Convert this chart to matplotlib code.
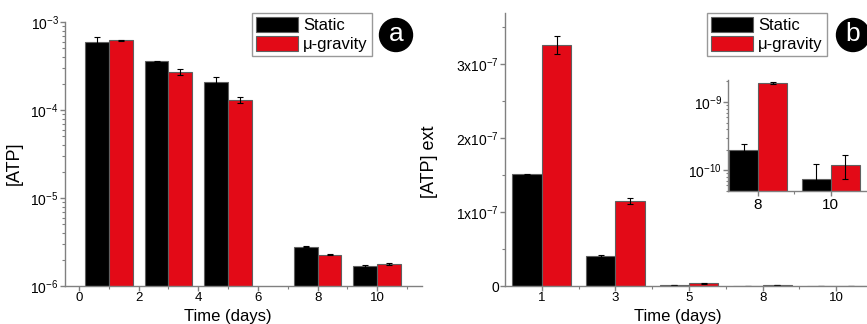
import matplotlib
matplotlib.use("Agg")
import matplotlib.pyplot as plt
import numpy as np
from matplotlib.patches import Ellipse
from matplotlib.ticker import LogLocator, FixedLocator, FuncFormatter, NullFormatter, MultipleLocator

plt.rcParams['font.family'] = ['Liberation Sans', 'DejaVu Sans']
plt.rcParams['mathtext.default'] = 'regular'

# ---- data ----
days = [1, 3, 5, 8, 10]
atp_static = [6.0e-4, 3.6e-4, 2.1e-4, 2.8e-6, 1.68e-6]
atp_static_err = [0.7e-4, 0.05e-4, 0.3e-4, 0.04e-6, 0.07e-6]
atp_grav = [6.2e-4, 2.7e-4, 1.31e-4, 2.28e-6, 1.79e-6]
atp_grav_err = [0.05e-4, 0.2e-4, 0.11e-4, 0.04e-6, 0.04e-6]

ext_labels = ['1', '3', '5', '8', '10']
ext_static = [1.51e-7, 0.40e-7, 1.5e-9, 2.0e-10, 7.5e-11]
ext_static_err = [0.01e-7, 0.02e-7, 0.2e-9, 0.45e-10, 4.7e-11]
ext_grav = [3.26e-7, 1.15e-7, 3.5e-9, 1.9e-9, 1.2e-10]
ext_grav_err = [0.12e-7, 0.04e-7, 0.3e-9, 0.05e-9, 0.47e-10]

inset_labels = ['8', '10']
inset_static = [2.0e-10, 7.5e-11]
inset_static_err = [0.45e-10, 4.7e-11]
inset_grav = [1.9e-9, 1.2e-10]
inset_grav_err = [0.05e-9, 0.47e-10]

RED = '#e30a17'
EDGE = '#606060'
SPINE = '#808080'

W, H = 867, 324
fig = plt.figure(figsize=(W / 100, H / 100), dpi=100)

def fx(px):
    return px / W

def fy(py):
    return 1 - py / H

def style_axes(ax):
    for s in ['top', 'right']:
        ax.spines[s].set_visible(False)
    for s in ['left', 'bottom']:
        ax.spines[s].set_color(SPINE)
        ax.spines[s].set_linewidth(1.0)
    ax.tick_params(which='both', direction='out', color=SPINE)
    ax.tick_params(which='major', length=3.5, width=1.0, labelsize=10, pad=1.0)
    ax.tick_params(axis='x', which='major', labelsize=9.5, pad=0.8)
    ax.tick_params(which='minor', length=2.5, width=0.8)

def pow_fmt(v, pos):
    if v <= 0:
        return ''
    e = int(round(np.log10(v)))
    return r'$10^{%d}$' % e

err_kw = dict(ecolor='black', elinewidth=0.8, capsize=2.5, capthick=0.8)

# ---- panel a ----
axa = fig.add_axes([fx(65), fy(286), fx(422) - fx(65), fy(22) - fy(286)])
d = np.array(days, dtype=float)
axa.bar(d - 0.4, atp_static, width=0.8, color='black', edgecolor=EDGE, linewidth=0.8,
        yerr=atp_static_err, error_kw=err_kw, label='Static', zorder=2)
axa.bar(d + 0.4, atp_grav, width=0.8, color=RED, edgecolor=EDGE, linewidth=0.8,
        yerr=atp_grav_err, error_kw=err_kw, label='\u03bc-gravity', zorder=2)
axa.set_yscale('log')
axa.set_ylim(1e-6, 1e-3)
axa.set_xlim(-0.47, 11.5)
axa.xaxis.set_major_locator(FixedLocator([0, 2, 4, 6, 8, 10]))
axa.xaxis.set_minor_locator(FixedLocator([1, 3, 5, 7, 9, 11]))
axa.yaxis.set_major_locator(LogLocator(base=10, numticks=10))
axa.yaxis.set_minor_locator(LogLocator(base=10, subs=np.arange(2, 10), numticks=10))
axa.yaxis.set_major_formatter(FuncFormatter(pow_fmt))
axa.yaxis.set_minor_formatter(NullFormatter())
style_axes(axa)
axa.set_xlabel('Time (days)', fontsize=12, labelpad=0, va='baseline')
axa.set_ylabel('[ATP]', fontsize=13)
axa.xaxis.set_label_coords(0.455, (286 - 320.5) / 264)
axa.yaxis.set_label_coords(-0.118, 0.466)

def add_legend(ax, x0, y0):
    handles, labels = ax.get_legend_handles_labels()
    lg = fig.legend(handles=handles, labels=labels,
                    loc='upper left', bbox_to_anchor=(fx(x0), fy(y0)),
                    fontsize=12, frameon=True, fancybox=False, edgecolor=SPINE,
                    handlelength=2.5, handleheight=1.0, handletextpad=0.3,
                    borderpad=0.25, labelspacing=0.15, borderaxespad=0.0)
    lg.get_frame().set_linewidth(1.0)
    for h in lg.legend_handles:
        try:
            h.set_edgecolor(EDGE)
        except Exception:
            pass
    return lg

add_legend(axa, 252, 13)

def add_circle(cx, cy, letter):
    r = 16.5
    e = Ellipse((fx(cx), fy(cy)), width=2 * r / W, height=2 * r / H,
                transform=fig.transFigure, facecolor='black', edgecolor='black')
    fig.patches.append(e)
    fig.text(fx(cx), fy(cy) + 0.004, letter, color='white', fontsize=19,
             ha='center', va='center')

add_circle(396, 35, 'a')

# ---- panel b ----
axb = fig.add_axes([fx(505), fy(286), fx(873) - fx(505), fy(13) - fy(286)])
pos = np.arange(len(ext_labels))
axb.bar(pos - 0.2, ext_static, width=0.4, color='black', edgecolor=EDGE, linewidth=0.8,
        yerr=ext_static_err, error_kw=err_kw, label='Static', zorder=2)
axb.bar(pos + 0.2, ext_grav, width=0.4, color=RED, edgecolor=EDGE, linewidth=0.8,
        yerr=ext_grav_err, error_kw=err_kw, label='\u03bc-gravity', zorder=2)
axb.set_ylim(0, 3.69e-7)
axb.set_xlim(-0.5, 4.5)
axb.xaxis.set_major_locator(FixedLocator(pos))
axb.xaxis.set_minor_locator(FixedLocator(pos[:-1] + 0.5))
axb.set_xticklabels(ext_labels)
axb.yaxis.set_major_locator(MultipleLocator(1e-7))
axb.yaxis.set_minor_locator(MultipleLocator(0.5e-7))

def lin_fmt(v, p):
    if abs(v) < 1e-12:
        return '0'
    return r'$%dx10^{-7}$' % int(round(v / 1e-7))

axb.yaxis.set_major_formatter(FuncFormatter(lin_fmt))
style_axes(axb)
axb.set_xlabel('Time (days)', fontsize=12, va='baseline')
axb.set_ylabel('[ATP] ext', fontsize=13)
axb.xaxis.set_label_coords(0.47, (286 - 320.5) / 273)
axb.yaxis.set_label_coords(-0.182, 0.454)
add_legend(axb, 707, 13)
add_circle(853, 35, 'b')

# ---- inset ----
axi = fig.add_axes([fx(728.3), fy(190.7), fx(865.7) - fx(728.3), fy(80) - fy(190.7)])
ip = np.arange(len(inset_labels))
axi.bar(ip - 0.2, inset_static, width=0.4, color='black', edgecolor=EDGE, linewidth=0.8,
        yerr=inset_static_err, error_kw=err_kw, zorder=2)
axi.bar(ip + 0.2, inset_grav, width=0.4, color=RED, edgecolor=EDGE, linewidth=0.8,
        yerr=inset_grav_err, error_kw=err_kw, zorder=2)
axi.set_yscale('log')
axi.set_ylim(5e-11, 2.1e-9)
axi.set_xlim(-0.41, 1.48)
axi.xaxis.set_major_locator(FixedLocator(ip))
axi.xaxis.set_minor_locator(FixedLocator([0.5]))
axi.set_xticklabels(inset_labels)
axi.yaxis.set_major_locator(LogLocator(base=10, numticks=10))
axi.yaxis.set_minor_locator(LogLocator(base=10, subs=np.arange(2, 10), numticks=10))
axi.yaxis.set_major_formatter(FuncFormatter(pow_fmt))
axi.yaxis.set_minor_formatter(NullFormatter())
style_axes(axi)
axi.tick_params(axis='x', which='major', labelsize=11, pad=1.5)
axi.tick_params(axis='y', which='minor', length=1.5)

fig.savefig('out.png', dpi=100)
